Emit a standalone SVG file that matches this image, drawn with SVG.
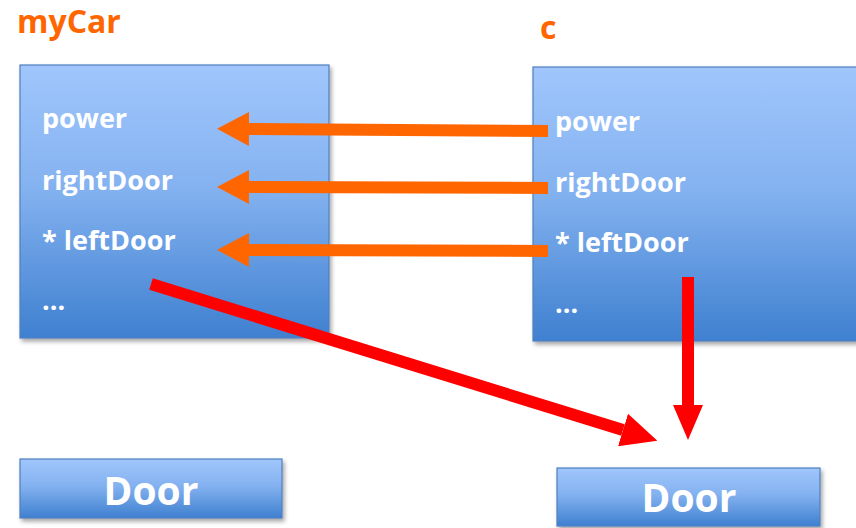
<svg xmlns="http://www.w3.org/2000/svg" width="856" height="528" viewBox="0 0 856 528">
  <defs>
    <linearGradient id="boxGrad" x1="0" y1="0" x2="0" y2="1">
      <stop offset="0" stop-color="#A0C6FC"/>
      <stop offset="0.45" stop-color="#84B2F0"/>
      <stop offset="1" stop-color="#3F80D0"/>
    </linearGradient>
    <filter id="shadow" x="-10%" y="-10%" width="130%" height="130%">
      <feDropShadow dx="2" dy="3" stdDeviation="2" flood-color="#000" flood-opacity="0.35"/>
    </filter>
    <marker id="headOrange" markerUnits="userSpaceOnUse" markerWidth="32" markerHeight="34" refX="0" refY="17" orient="auto">
      <path d="M0,0 L32,17 L0,34 Z" fill="#FF6600"/>
    </marker>
    <marker id="headRed" markerUnits="userSpaceOnUse" markerWidth="36" markerHeight="34" refX="0" refY="17" orient="auto">
      <path d="M0,0 L36,17 L0,34 Z" fill="#FF0000"/>
    </marker>
    <marker id="headRedV" markerUnits="userSpaceOnUse" markerWidth="35" markerHeight="30" refX="0" refY="15" orient="auto">
      <path d="M0,0 L35,15 L0,30 Z" fill="#FF0000"/>
    </marker>
  </defs>
  <style>
    .box { fill: url(#boxGrad); stroke: #4F7FBF; stroke-width: 1.2; filter: url(#shadow); }
    .field { font-family: "Open Sans", "Liberation Sans", sans-serif; font-weight: bold; font-size: 27px; fill: #FFFFFF; }
    .door { font-family: "Open Sans", "Liberation Sans", sans-serif; font-weight: bold; font-size: 39px; fill: #FFFFFF; text-anchor: middle; }
    .title { font-family: "Open Sans", "Liberation Sans", sans-serif; font-weight: bold; font-size: 32px; fill: #FF6600; }
    .orange { stroke: #FF6600; stroke-width: 12; fill: none; marker-end: url(#headOrange); }
    .red { stroke: #FF0000; stroke-width: 12; fill: none; }
  </style>

  <g id="myCar-title"><text class="title" x="17" y="33">myCar</text></g>
  <g id="c-title"><text class="title" x="540" y="39">c</text></g>

  <g id="myCar">
    <rect class="box" x="20" y="65" width="309" height="273"/>
    <text class="field" x="42" y="128">power</text>
    <text class="field" x="42" y="190">rightDoor</text>
    <text class="field" x="42" y="250">* leftDoor</text>
    <text class="field" x="42" y="310">...</text>
  </g>

  <g id="c">
    <rect class="box" x="533" y="67" width="340" height="274"/>
    <text class="field" x="555" y="131">power</text>
    <text class="field" x="555" y="192">rightDoor</text>
    <text class="field" x="555" y="252">* leftDoor</text>
    <text class="field" x="555" y="313">...</text>
  </g>

  <g id="door1">
    <rect class="box" x="20" y="459" width="262" height="59"/>
    <text class="door" x="151" y="505">Door</text>
  </g>

  <g id="door2">
    <rect class="box" x="557" y="468" width="263" height="58"/>
    <text class="door" x="689" y="512">Door</text>
  </g>

  <g id="connectors">
    <line class="orange" x1="548" y1="131" x2="249" y2="129"/>
    <line class="orange" x1="548" y1="188" x2="249" y2="187"/>
    <line class="orange" x1="548" y1="251" x2="249" y2="250"/>
    <line class="red" x1="151" y1="284" x2="623" y2="430" marker-end="url(#headRed)"/>
    <line class="red" x1="688" y1="277" x2="688" y2="405" stroke-width="10" marker-end="url(#headRedV)"/>
  </g>
</svg>
